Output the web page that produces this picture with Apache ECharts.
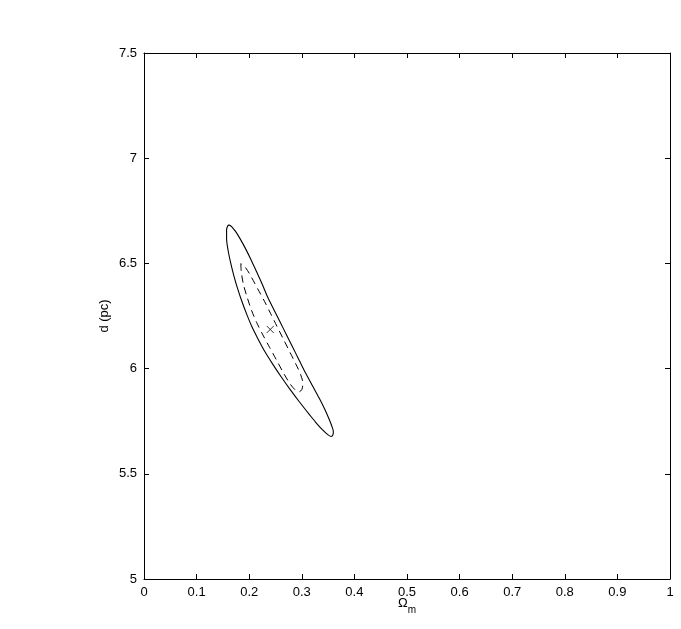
<!DOCTYPE html>
<html>
<head>
<meta charset="utf-8">
<script src="https://cdn.jsdelivr.net/npm/echarts@6/dist/echarts.min.js"></script>
<style>
  html, body { margin: 0; padding: 0; background: #fff; }
  #chart { width: 681px; height: 629px; }
</style>
</head>
<body>
<div id="chart"></div>
<script>
// contour points: [Omega_m, d]
var outerContour = [
  [0.160, 6.682], [0.157, 6.660], [0.157, 6.620], [0.160, 6.560], [0.165, 6.500],
  [0.171, 6.440], [0.178, 6.380], [0.186, 6.320], [0.195, 6.260], [0.205, 6.200],
  [0.217, 6.140], [0.230, 6.080], [0.245, 6.020], [0.261, 5.960], [0.278, 5.900],
  [0.296, 5.840], [0.315, 5.780], [0.328, 5.740], [0.341, 5.705], [0.350, 5.685],
  [0.356, 5.677], [0.359, 5.684], [0.360, 5.700], [0.357, 5.727], [0.351, 5.765],
  [0.343, 5.810], [0.333, 5.860], [0.320, 5.920], [0.307, 5.980], [0.295, 6.040],
  [0.283, 6.100], [0.271, 6.160], [0.259, 6.220], [0.247, 6.280], [0.235, 6.340],
  [0.225, 6.400], [0.214, 6.460], [0.203, 6.520], [0.192, 6.575], [0.182, 6.620],
  [0.174, 6.652], [0.167, 6.674], [0.162, 6.682], [0.160, 6.682]
];
var innerContour = [
  [0.184, 6.499], [0.185, 6.460], [0.189, 6.400], [0.196, 6.340], [0.204, 6.280],
  [0.214, 6.220], [0.226, 6.160], [0.239, 6.100], [0.252, 6.040], [0.265, 5.980],
  [0.277, 5.930], [0.287, 5.900], [0.295, 5.890], [0.300, 5.900], [0.302, 5.930],
  [0.298, 5.970], [0.289, 6.020], [0.277, 6.080], [0.265, 6.140], [0.253, 6.200],
  [0.241, 6.260], [0.229, 6.320], [0.216, 6.380], [0.203, 6.440], [0.193, 6.480],
  [0.184, 6.499]
];
var bestFit = [[0.240, 6.186]];

var xTicks = { min: 0, max: 1, interval: 0.1 };
var yTicks = { min: 5, max: 7.5, interval: 0.5 };

var chart = echarts.init(document.getElementById('chart'));
var font = 'Liberation Sans, Arial, Helvetica, sans-serif';

function boxAxis(extra) {
  var ax = {
    type: 'value',
    axisLine: { show: true, onZero: false, lineStyle: { color: '#000', width: 1 } },
    axisTick: { show: true, inside: true, length: 5, lineStyle: { color: '#000' } },
    splitLine: { show: false },
    axisLabel: { show: false }
  };
  for (var k in extra) ax[k] = extra[k];
  return ax;
}

var option = {
  animation: false,
  backgroundColor: '#fff',
  grid: { left: 144, right: 11, top: 53, bottom: 50 },
  xAxis: [
    boxAxis({
      position: 'bottom', min: xTicks.min, max: xTicks.max, interval: xTicks.interval,
      axisLabel: { show: true, color: '#000', fontFamily: font, fontSize: 13, margin: 7 },
      name: '{a|Ω}{m|m}',
      nameLocation: 'middle',
      nameGap: 18,
      nameMoveOverlap: false,
      nameTextStyle: {
        color: '#000', fontFamily: font,
        rich: {
          a: { fontSize: 13, fontFamily: font, color: '#000', verticalAlign: 'top', lineHeight: 18 },
          m: { fontSize: 10, fontFamily: font, color: '#000', verticalAlign: 'bottom', lineHeight: 18 }
        }
      }
    }),
    boxAxis({ position: 'top', min: xTicks.min, max: xTicks.max, interval: xTicks.interval })
  ],
  yAxis: [
    boxAxis({
      position: 'left', min: yTicks.min, max: yTicks.max, interval: yTicks.interval,
      axisLabel: { show: true, color: '#000', fontFamily: font, fontSize: 13, margin: 7 },
      name: 'd (pc)',
      nameLocation: 'middle',
      nameGap: 33,
      nameMoveOverlap: false,
      nameTextStyle: { color: '#000', fontFamily: font, fontSize: 13 }
    }),
    boxAxis({ position: 'right', min: yTicks.min, max: yTicks.max, interval: yTicks.interval })
  ],
  series: [
    {
      type: 'line', data: outerContour, showSymbol: false, smooth: 0.3,
      lineStyle: { color: '#000', width: 1.1 }, silent: true
    },
    {
      type: 'line', data: innerContour, showSymbol: false, smooth: 0.3,
      lineStyle: { color: '#000', width: 1, type: [7, 5] }, silent: true
    },
    {
      type: 'scatter', data: bestFit,
      symbol: 'path://M0,0L10,10M10,0L0,10', symbolSize: 7,
      itemStyle: { color: 'none', borderColor: '#000', borderWidth: 1 }, silent: true
    }
  ]
};

chart.setOption(option);
</script>
</body>
</html>
